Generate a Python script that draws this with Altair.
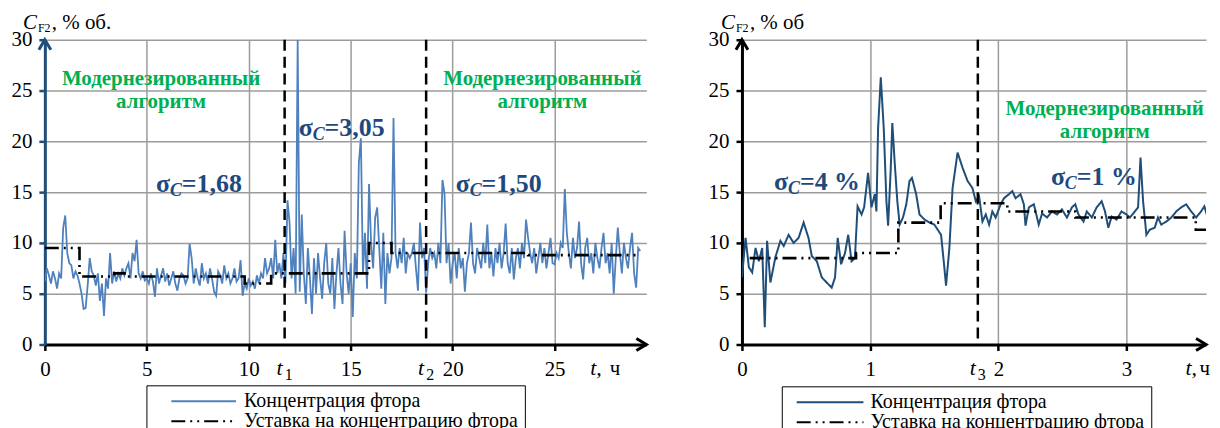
import altair as alt
import pandas as pd

FONT = "Liberation Serif"
SERIES = ["Концентрация фтора", "Уставка на концентрацию фтора"]
GREEN = "#00b050"
NAVY = "#1f497d"
GRID = "#9c9c9c"
H = 306

# ---------------- left panel data (t, h; value, % vol) ----------------
left_conc = [
    6.2, 7.5, 6.8, 6.0, 7.2, 6.5, 5.5, 7.0, 6.5, 11.5,
    12.7, 9.0, 8.0, 7.8, 6.5, 7.2, 6.8, 6.0, 5.0, 3.5,
    3.6, 5.8, 8.5, 7.2, 6.8, 5.8, 7.0, 4.3, 6.0, 2.8,
    6.5, 5.5, 9.0, 6.0, 7.2, 6.2, 7.0, 6.5, 7.5, 6.8,
    7.5, 8.0, 6.5, 9.0, 8.2, 10.3, 7.0, 6.5, 7.2, 6.3,
    6.5, 6.0, 7.0, 6.2, 4.7, 7.5, 6.0, 6.8, 7.5, 6.2,
    7.0, 5.8, 6.5, 7.2, 6.0, 5.3, 6.5, 7.0, 6.8, 6.0,
    6.5, 9.9, 8.5, 6.0, 7.5, 6.5, 5.8, 8.0, 6.5, 7.0,
    6.0, 7.5, 6.5, 5.2, 4.8, 7.2, 6.8, 6.0, 7.8, 6.5,
    7.0, 6.0, 6.5, 7.5, 6.2, 6.5, 8.3, 4.8, 6.0, 5.5,
    6.5, 5.8, 6.2, 5.5, 6.8, 6.0, 7.0, 6.5, 8.5, 7.0,
    7.5, 8.5, 6.5, 10.3, 7.0, 8.0, 6.5, 9.0, 6.0, 14.2,
    12.0, 6.5, 9.5, 5.0, 30.0, 5.2, 12.8, 7.0, 4.0, 9.5,
    6.5, 3.0, 8.5, 5.0, 9.0, 6.5, 4.5, 8.0, 10.0, 6.0,
    5.0, 8.5, 3.5, 7.0, 9.5, 6.0, 4.0, 11.2, 7.0, 5.0,
    8.0, 2.7, 9.0, 6.5, 17.9, 20.3, 7.0, 11.0, 5.5, 15.8,
    10.0, 7.5, 12.5, 13.5, 9.5, 5.5, 11.0, 4.0, 9.0, 7.0,
    8.5, 22.3, 9.0, 7.5, 9.5, 8.0, 10.5, 7.0, 9.0, 8.5,
    9.0, 10.0, 7.5, 5.3, 12.0, 8.5, 9.5, 5.1, 8.0, 9.5,
    8.5, 9.0, 7.5, 10.0, 8.0, 16.2, 14.9, 8.0, 10.0, 6.0,
    8.0, 9.0, 6.5, 9.5, 7.5, 8.5, 5.2, 8.0, 9.0, 12.0,
    8.0, 7.0, 9.5, 8.5, 7.5, 10.0, 8.0, 11.8, 7.5, 9.0,
    6.7, 9.5, 8.0, 10.0, 7.5, 9.0, 11.9, 8.0, 7.0, 9.5,
    6.4, 8.5, 9.5, 7.5, 10.0, 8.5, 12.3, 10.5, 9.0, 8.0,
    9.5, 7.0, 8.5, 10.0, 8.0, 9.5, 7.5, 9.0, 10.5, 8.0,
    7.9, 9.0, 8.5, 10.0, 9.5, 15.3, 11.0, 9.0, 7.5, 10.5,
    8.5, 9.5, 12.1, 8.0, 6.4, 9.5, 10.5, 8.0, 9.0, 7.0,
    10.0, 8.5, 7.5, 9.5, 11.0, 8.0, 9.0, 7.0, 10.0, 5.0,
    8.5, 11.5, 9.0, 7.0, 10.0, 8.5, 7.5, 9.5, 11.0, 7.0,
    5.6, 9.5, 9.2,
]
left_time = [round(i * 0.1, 1) for i in range(len(left_conc))]
left_set_t = [0.0, 1.7, 3.4, 4.0, 9.8, 11.1, 15.9, 17.0, 23.7, 29.2]
left_set_v = [9.5, 6.7, 7.0, 6.7, 6.0, 7.0, 10.0, 9.0, 8.8, 8.8]
left_vlines = [11.76, 18.7]
left_vsubs = ["1", "2"]
left_xticks = [0, 5, 10, 15, 20, 25]
left_xmax = 29.5
left_green_t = [5.7, 5.7, 24.4, 24.4]
left_green_v = [26.1, 23.9, 26.1, 23.9]
left_green_lbl = ["Модернезированный", "алгоритм", "Модернезированный", "алгоритм"]
left_sigma_t = [5.45, 12.45, 20.15]
left_sigma_v = [15.8, 21.3, 15.8]
left_sigma_lbl = ["=1,68", "=3,05", "=1,50"]

# ---------------- right panel data ----------------
right_time = [
    0.0, 0.028, 0.054, 0.080, 0.106, 0.132, 0.158, 0.178, 0.196, 0.222,
    0.261, 0.300, 0.326, 0.364, 0.403, 0.442, 0.481, 0.519, 0.545, 0.584,
    0.623, 0.661, 0.700, 0.726, 0.747, 0.773, 0.804, 0.829, 0.855, 0.881,
    0.902, 0.933, 0.953, 0.984, 1.010, 1.036, 1.049, 1.062, 1.083, 1.106,
    1.127, 1.140, 1.160, 1.173, 1.191, 1.212, 1.230, 1.256, 1.282, 1.307,
    1.326, 1.359, 1.385, 1.424, 1.463, 1.501, 1.527, 1.553, 1.574, 1.592,
    1.618, 1.643, 1.682, 1.721, 1.760, 1.798, 1.824, 1.850, 1.876, 1.902,
    1.928, 1.953, 1.979, 2.018, 2.044, 2.083, 2.109, 2.134, 2.173, 2.199,
    2.212, 2.238, 2.277, 2.315, 2.341, 2.380, 2.419, 2.457, 2.496, 2.535,
    2.574, 2.600, 2.625, 2.664, 2.690, 2.729, 2.767, 2.806, 2.832, 2.858,
    2.884, 2.922, 2.961, 3.000, 3.026, 3.065, 3.090, 3.109, 3.129, 3.155,
    3.181, 3.220, 3.245, 3.271, 3.310, 3.349, 3.388, 3.426, 3.465, 3.504,
    3.543, 3.581, 3.607, 3.633, 3.659, 3.674,
]
right_conc = [
    6.6, 10.5, 7.6, 7.1, 9.5, 8.2, 9.5, 1.7, 10.2, 6.1,
    8.6, 10.2, 9.7, 10.8, 10.0, 10.5, 12.0, 10.5, 8.7, 8.2,
    6.6, 6.1, 5.6, 6.6, 10.5, 7.9, 9.0, 10.8, 8.2, 8.5,
    13.6, 12.8, 13.5, 16.9, 13.5, 14.8, 13.1, 21.3, 26.3, 21.3,
    14.1, 11.7, 17.1, 21.8, 18.0, 14.1, 11.8, 12.5, 13.8, 16.1,
    16.4, 14.8, 12.8, 12.3, 12.0, 11.8, 11.3, 10.8, 8.2, 5.8,
    9.5, 15.4, 18.9, 17.4, 16.1, 15.4, 14.1, 14.6, 12.1, 12.8,
    11.8, 13.1, 12.5, 13.8, 14.4, 14.8, 15.1, 14.4, 14.8, 13.8,
    11.7, 13.5, 13.8, 11.8, 12.9, 12.5, 13.1, 12.8, 13.3, 12.5,
    13.5, 13.8, 12.8, 12.1, 13.1, 12.5, 13.5, 14.1, 13.1, 11.5,
    12.6, 12.3, 13.1, 12.8, 12.5, 13.1, 13.5, 18.4, 14.1, 10.8,
    11.3, 11.5, 12.5, 11.8, 12.1, 12.5, 13.1, 13.5, 13.8, 13.1,
    12.5, 13.1, 13.6, 12.5, 12.8, 11.3,
]
right_set_t = [0.06, 0.89, 1.22, 1.55, 2.07, 2.60, 3.54, 3.67]
right_set_v = [8.5, 9.0, 12.0, 13.9, 13.1, 12.5, 11.3, 11.3]
right_vlines = [1.84]
right_vsubs = ["3"]
right_xticks = [0, 1, 2, 3]
right_xmax = 3.62
right_green_t = [2.83, 2.83]
right_green_v = [23.2, 20.9]
right_green_lbl = ["Модернезированный", "алгоритм"]
right_sigma_t = [0.25, 2.41]
right_sigma_v = [16.0, 16.5]
right_sigma_lbl = ["=4 %", "=1 %"]


def panel(p):
    W = p["width"]
    xs = alt.Scale(domain=[0, p["xmax"]], nice=False, zero=False)
    ys = alt.Scale(domain=[0, 30], nice=False)
    x_enc = alt.X("t:Q", scale=xs, axis=alt.Axis(
        values=p["xticks"], grid=True, gridColor=GRID, gridWidth=1.5,
        domainColor="black", domainWidth=3, tickColor="black", tickWidth=2.5,
        tickSize=6, labelFont=FONT, labelFontSize=21, labelColor="black",
        labelBaseline="alphabetic", labelPadding=25, labelFlush=False, title=None))
    y_enc = alt.Y("v:Q", scale=ys, axis=alt.Axis(
        values=[0, 5, 10, 15, 20, 25, 30], grid=True, gridColor=GRID, gridWidth=1.5,
        domainColor=p["axis_color"], domainWidth=3, tickColor=p["axis_color"],
        tickWidth=2.5, tickSize=6, labelFont=FONT, labelFontSize=21,
        labelColor="black", labelPadding=7, title=None))
    leg = alt.Legend(
        title=None, orient="none", legendX=p["lx"], legendY=p["ly"],
        direction="vertical", strokeColor="black", fillColor="white", padding=6,
        symbolType=p["lpath"], symbolSize=100, symbolStrokeWidth=2,
        symbolOffset=p["lso"], labelOffset=p["llo"], labelFont=FONT,
        labelFontSize=20, labelColor="black", labelLimit=600, rowPadding=-2)
    color = alt.Color("s:N", scale=alt.Scale(domain=SERIES, range=[p["line_color"], "black"]), legend=leg)
    dash = alt.StrokeDash("s:N", scale=alt.Scale(domain=SERIES, range=[[1, 0], [14, 5, 2, 5, 2, 5]]), legend=leg)

    conc = pd.DataFrame({"t": p["ct"], "v": p["cv"], "s": SERIES[0]})
    setp = pd.DataFrame({"t": p["st"], "v": p["sv"], "s": SERIES[1]})
    vl = pd.DataFrame({"t": p["vl"], "sub": p["vsub"]})
    green = pd.DataFrame({"t": p["gt"], "v": p["gv"], "label": p["gl"]})
    sig = pd.DataFrame({"t": p["sgt"], "v": p["sgv"], "label": p["sgl"]})
    one = pd.DataFrame({"t": [0.0], "v": [30.0]})
    xend = pd.DataFrame({"t": [p["xmax"]], "v": [0.0]})

    layers = [
        alt.Chart(conc).mark_line(strokeWidth=p["lw"], clip=True).encode(x=x_enc, y=y_enc, color=color, strokeDash=dash),
        alt.Chart(setp).mark_line(strokeWidth=2.6, interpolate="step-after", clip=True).encode(
            x=x_enc, y=y_enc, color=color, strokeDash=dash),
        alt.Chart(vl).mark_rule(strokeDash=[11, 6], strokeWidth=2.5, color="black").encode(x=x_enc),
        alt.Chart(one).mark_point(shape="M-0.6,1L0,0L0.6,1", filled=False, size=400, strokeWidth=3,
                                  color=p["axis_color"], opacity=1).encode(x=x_enc, y=y_enc),
        alt.Chart(xend).mark_point(shape="M-1,-0.6L0,0L-1,0.6", filled=False, size=400, strokeWidth=3,
                                   color="black", opacity=1).encode(x=x_enc, y=y_enc),
        alt.Chart(green).mark_text(font=FONT, fontSize=21, fontWeight="bold", color=GREEN).encode(
            x=x_enc, y=y_enc, text="label:N"),
        alt.Chart(sig).mark_text(font=FONT, fontSize=26, fontWeight="bold", color=NAVY, align="left", text="σ").encode(
            x=x_enc, y=y_enc),
        alt.Chart(sig).mark_text(font=FONT, fontSize=18, fontWeight="bold", fontStyle="italic", color=NAVY,
                                 align="left", dx=14, dy=7, text="C").encode(x=x_enc, y=y_enc),
        alt.Chart(sig).mark_text(font=FONT, fontSize=26, fontWeight="bold", color=NAVY, align="left", dx=26).encode(
            x=x_enc, y=y_enc, text="label:N"),
        alt.Chart(vl).mark_text(font=FONT, fontSize=22, fontStyle="italic", color="black", align="center",
                                baseline="alphabetic", dx=-5, text="t").encode(x=x_enc, y=alt.value(H + 31)),
        alt.Chart(vl).mark_text(font=FONT, fontSize=16, color="black", align="center",
                                baseline="alphabetic", dx=4, text="").encode(x=x_enc, y=alt.value(H + 36), text="sub:N"),
        alt.Chart(pd.DataFrame({"t": [p["tl1"]]})).mark_text(font=FONT, fontSize=22, fontStyle="italic", color="black",
                                align="left", baseline="alphabetic", text="t,").encode(x=x_enc, y=alt.value(H + 31)),
        alt.Chart(pd.DataFrame({"t": [p["tl2"]]})).mark_text(font=FONT, fontSize=21, color="black",
                                align="left", baseline="alphabetic", text="ч").encode(x=x_enc, y=alt.value(H + 31)),
        alt.Chart(one).mark_text(font=FONT, fontSize=21, fontStyle="italic", color="black", align="left",
                                 baseline="alphabetic", text="C").encode(x=alt.value(p["cx"]), y=alt.value(-11)),
        alt.Chart(one).mark_text(font=FONT, fontSize=12, color="black", align="left",
                                 baseline="alphabetic", text="F2").encode(x=alt.value(p["cx"] + 15), y=alt.value(-8)),
        alt.Chart(one).mark_text(font=FONT, fontSize=21, color="black", align="left",
                                 baseline="alphabetic", text=p["ytitle"]).encode(x=alt.value(p["cx"] + 29), y=alt.value(-11)),
    ]
    return alt.layer(*layers).properties(width=W, height=H)


left = panel(dict(
    width=604, xmax=left_xmax, xticks=left_xticks, axis_color="#1f4e79", line_color="#4f81bd", lw=1.8,
    lx=102, ly=347, lpath="M-6.5,0H6.5", lso=41.5, llo=30.5,
    ct=left_time, cv=left_conc, st=left_set_t, sv=left_set_v, vl=left_vlines, vsub=left_vsubs,
    gt=left_green_t, gv=left_green_v, gl=left_green_lbl,
    sgt=left_sigma_t, sgv=left_sigma_v, sgl=left_sigma_lbl,
    tl1=26.75, tl2=27.7, cx=-22, ytitle=", % об."))

right = panel(dict(
    width=466, xmax=right_xmax, xticks=right_xticks, axis_color="black", line_color="#1f4e79", lw=2,
    lx=40, ly=348, lpath="M-6.7,0H6.7", lso=32.5, llo=30.5,
    ct=right_time, cv=right_conc, st=right_set_t, sv=right_set_v, vl=right_vlines, vsub=right_vsubs,
    gt=right_green_t, gv=right_green_v, gl=right_green_lbl,
    sgt=right_sigma_t, sgv=right_sigma_v, sgl=right_sigma_lbl,
    tl1=3.46, tl2=3.57, cx=-21, ytitle=", % об"))

chart = alt.hconcat(left, right, spacing=56).resolve_scale(
    x="independent", y="independent", color="independent", strokeDash="independent"
).resolve_legend(color="independent", strokeDash="independent").configure_view(stroke=None).properties(
    padding={"left": 3, "top": 3, "right": 0, "bottom": 0})

chart.save("out.html", embed_options={"renderer": "svg", "actions": False})
